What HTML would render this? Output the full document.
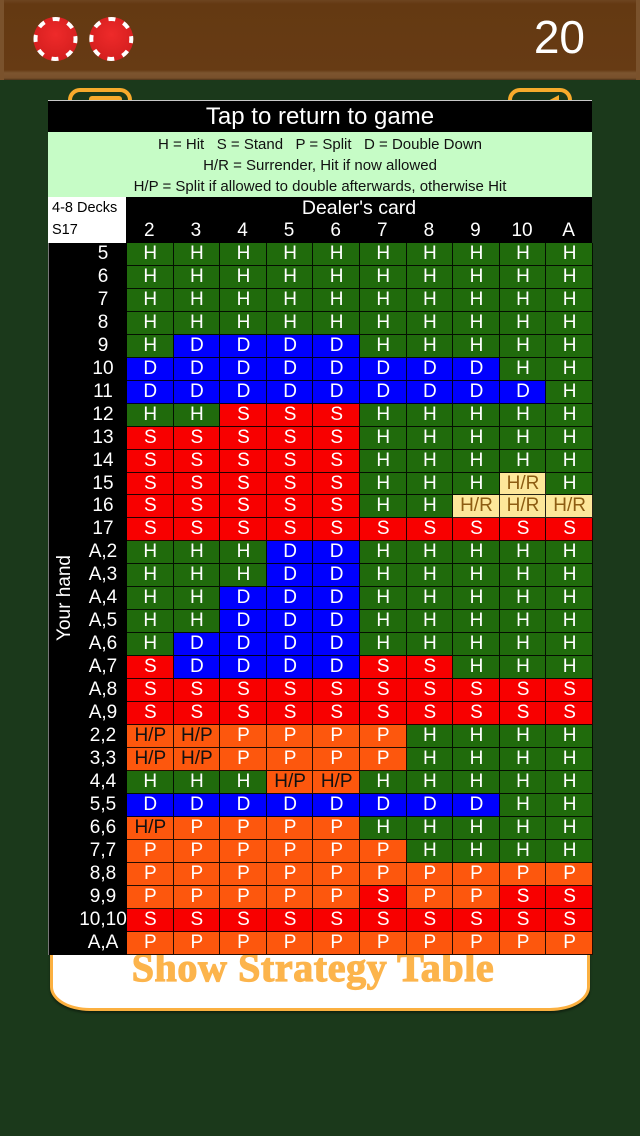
<!DOCTYPE html>
<html><head><meta charset="utf-8">
<style>
*{margin:0;padding:0;box-sizing:border-box}
html,body{width:640px;height:1136px;overflow:hidden;background:#1b391b;font-family:"Liberation Sans",sans-serif}
.bar{position:absolute;left:0;top:0;width:640px;height:80px;background:linear-gradient(to bottom,#6d4420 0,#643912 4px,#673b14 70px,#7c552f 73px,#78502b 78px,#4e3219 80px);border-left:4px solid #7a522c;border-right:4px solid #7a522c}
.score{position:absolute;right:55px;top:10px;font-size:46px;color:#fff;line-height:54px}
.btn{position:absolute;top:88px;width:64px;height:40px;border:4px solid #f8aa2c;border-radius:12px}
.btnin{position:absolute;left:89px;top:96px;width:33px;height:12px;background:#f8aa2c;border-radius:3px}
.panel{position:absolute;left:50px;top:930px;width:540px;height:81px;background:#fff;border:3px solid #fbb040;border-top:none;border-radius:0 0 40px 40px/0 0 24px 24px;box-shadow:0 2px 2px rgba(0,0,0,.4)}
.show{position:absolute;left:0;width:640px;top:946px;text-align:center;padding-right:14px;font-family:"Liberation Serif",serif;font-weight:bold;font-size:40px;line-height:44px;color:#fcb44c;letter-spacing:0.6px;-webkit-text-stroke:1.2px #fcb44c}
.tbl{position:absolute;left:48px;top:100px;width:544px;z-index:2}
.topline{height:1px;background:#c8c8c8}
.title{height:31px;background:#000;color:#fff;font-size:24px;line-height:31px;text-align:center}
.leg{height:65px;background:#c6fcc6;color:#111;font-size:15px;line-height:21.3px;text-align:center;padding-top:1.5px;white-space:nowrap}
.hdr{position:relative;height:46px;background:#000}
.hl{position:absolute;left:0;top:0;width:78px;height:46px;background:#fff;color:#000;font-size:14.5px}
.hl span{position:absolute;left:4px}
.dc{position:absolute;left:78px;width:466px;top:0;text-align:center;color:#fff;font-size:19.5px;line-height:22px}
.nums{position:absolute;left:78px;top:23px;width:466px;display:flex;color:#fff;font-size:19px;line-height:22px}
.nums span{width:46.6px;text-align:center}
.grid{display:grid;grid-template-columns:78px repeat(10,46.6px);grid-template-rows:repeat(31,22.968px);background:#000;border-left:1px solid #777}
.grid b{font-weight:normal;color:#fff;font-size:19px;line-height:21px;text-align:center;padding-left:30px;white-space:nowrap}
.grid i{font-style:normal;background:#206b0c;color:#fff;font-size:19px;line-height:21px;text-align:center;box-shadow:inset -1px -1px 0 rgba(0,0,0,.85)}
.grid i.b{background:#0000fe}
.grid i.r{background:#f80000}
.grid i.o{background:#fd570d}
.grid i.k{background:#fd570d;color:#111}
.grid i.y{background:#fde79a;color:#8d5d12}
.yh{position:absolute;left:69.5px;top:598px;transform-origin:0 0;transform:rotate(-90deg) translate(-50%,-15px);color:#fff;font-size:19px;line-height:19px;white-space:nowrap;z-index:3}
</style></head><body>
<div class="bar"></div>
<svg style="position:absolute;left:0;top:0" width="150" height="80">
<defs><radialGradient id="cg" cx="50%" cy="40%" r="60%"><stop offset="0" stop-color="#ee2a2a"/><stop offset="1" stop-color="#d41e1e"/></radialGradient></defs>
<circle cx="55.5" cy="39" r="22" fill="url(#cg)"/>
<circle cx="55.5" cy="39" r="20" fill="none" stroke="#fff" stroke-width="4" stroke-dasharray="7 8.7" stroke-dashoffset="3"/>
<circle cx="111.3" cy="39" r="22" fill="url(#cg)"/>
<circle cx="111.3" cy="39" r="20" fill="none" stroke="#fff" stroke-width="4" stroke-dasharray="7 8.7" stroke-dashoffset="3"/>
</svg>
<div class="score">20</div>
<div class="btn" style="left:68px"></div>
<div class="btnin"></div>
<div class="btn" style="left:508px"></div>
<svg style="position:absolute;left:540px;top:90px" width="24" height="14"><polygon points="6,12 19,5 19,12" fill="#f8aa2c"/></svg>

<div class="panel"></div>
<div class="show">Show Strategy Table</div>

<div class="tbl">
<div class="topline"></div>
<div class="title">Tap to return to game</div>
<div class="leg">H = Hit &nbsp; S = Stand &nbsp; P = Split &nbsp; D = Double Down<br>H/R = Surrender, Hit if now allowed<br>H/P = Split if allowed to double afterwards, otherwise Hit</div>
<div class="hdr">
<div class="hl"><span style="top:3px">4-8 Decks</span><span style="top:25px">S17</span></div>
<div class="dc">Dealer's card</div>
<div class="nums"><span>2</span><span>3</span><span>4</span><span>5</span><span>6</span><span>7</span><span>8</span><span>9</span><span>10</span><span>A</span></div>
</div>
<div class="grid">
<b>5</b><i>H</i><i>H</i><i>H</i><i>H</i><i>H</i><i>H</i><i>H</i><i>H</i><i>H</i><i>H</i>
<b>6</b><i>H</i><i>H</i><i>H</i><i>H</i><i>H</i><i>H</i><i>H</i><i>H</i><i>H</i><i>H</i>
<b>7</b><i>H</i><i>H</i><i>H</i><i>H</i><i>H</i><i>H</i><i>H</i><i>H</i><i>H</i><i>H</i>
<b>8</b><i>H</i><i>H</i><i>H</i><i>H</i><i>H</i><i>H</i><i>H</i><i>H</i><i>H</i><i>H</i>
<b>9</b><i>H</i><i class="b">D</i><i class="b">D</i><i class="b">D</i><i class="b">D</i><i>H</i><i>H</i><i>H</i><i>H</i><i>H</i>
<b>10</b><i class="b">D</i><i class="b">D</i><i class="b">D</i><i class="b">D</i><i class="b">D</i><i class="b">D</i><i class="b">D</i><i class="b">D</i><i>H</i><i>H</i>
<b>11</b><i class="b">D</i><i class="b">D</i><i class="b">D</i><i class="b">D</i><i class="b">D</i><i class="b">D</i><i class="b">D</i><i class="b">D</i><i class="b">D</i><i>H</i>
<b>12</b><i>H</i><i>H</i><i class="r">S</i><i class="r">S</i><i class="r">S</i><i>H</i><i>H</i><i>H</i><i>H</i><i>H</i>
<b>13</b><i class="r">S</i><i class="r">S</i><i class="r">S</i><i class="r">S</i><i class="r">S</i><i>H</i><i>H</i><i>H</i><i>H</i><i>H</i>
<b>14</b><i class="r">S</i><i class="r">S</i><i class="r">S</i><i class="r">S</i><i class="r">S</i><i>H</i><i>H</i><i>H</i><i>H</i><i>H</i>
<b>15</b><i class="r">S</i><i class="r">S</i><i class="r">S</i><i class="r">S</i><i class="r">S</i><i>H</i><i>H</i><i>H</i><i class="y">H/R</i><i>H</i>
<b>16</b><i class="r">S</i><i class="r">S</i><i class="r">S</i><i class="r">S</i><i class="r">S</i><i>H</i><i>H</i><i class="y">H/R</i><i class="y">H/R</i><i class="y">H/R</i>
<b>17</b><i class="r">S</i><i class="r">S</i><i class="r">S</i><i class="r">S</i><i class="r">S</i><i class="r">S</i><i class="r">S</i><i class="r">S</i><i class="r">S</i><i class="r">S</i>
<b>A,2</b><i>H</i><i>H</i><i>H</i><i class="b">D</i><i class="b">D</i><i>H</i><i>H</i><i>H</i><i>H</i><i>H</i>
<b>A,3</b><i>H</i><i>H</i><i>H</i><i class="b">D</i><i class="b">D</i><i>H</i><i>H</i><i>H</i><i>H</i><i>H</i>
<b>A,4</b><i>H</i><i>H</i><i class="b">D</i><i class="b">D</i><i class="b">D</i><i>H</i><i>H</i><i>H</i><i>H</i><i>H</i>
<b>A,5</b><i>H</i><i>H</i><i class="b">D</i><i class="b">D</i><i class="b">D</i><i>H</i><i>H</i><i>H</i><i>H</i><i>H</i>
<b>A,6</b><i>H</i><i class="b">D</i><i class="b">D</i><i class="b">D</i><i class="b">D</i><i>H</i><i>H</i><i>H</i><i>H</i><i>H</i>
<b>A,7</b><i class="r">S</i><i class="b">D</i><i class="b">D</i><i class="b">D</i><i class="b">D</i><i class="r">S</i><i class="r">S</i><i>H</i><i>H</i><i>H</i>
<b>A,8</b><i class="r">S</i><i class="r">S</i><i class="r">S</i><i class="r">S</i><i class="r">S</i><i class="r">S</i><i class="r">S</i><i class="r">S</i><i class="r">S</i><i class="r">S</i>
<b>A,9</b><i class="r">S</i><i class="r">S</i><i class="r">S</i><i class="r">S</i><i class="r">S</i><i class="r">S</i><i class="r">S</i><i class="r">S</i><i class="r">S</i><i class="r">S</i>
<b>2,2</b><i class="k">H/P</i><i class="k">H/P</i><i class="o">P</i><i class="o">P</i><i class="o">P</i><i class="o">P</i><i>H</i><i>H</i><i>H</i><i>H</i>
<b>3,3</b><i class="k">H/P</i><i class="k">H/P</i><i class="o">P</i><i class="o">P</i><i class="o">P</i><i class="o">P</i><i>H</i><i>H</i><i>H</i><i>H</i>
<b>4,4</b><i>H</i><i>H</i><i>H</i><i class="k">H/P</i><i class="k">H/P</i><i>H</i><i>H</i><i>H</i><i>H</i><i>H</i>
<b>5,5</b><i class="b">D</i><i class="b">D</i><i class="b">D</i><i class="b">D</i><i class="b">D</i><i class="b">D</i><i class="b">D</i><i class="b">D</i><i>H</i><i>H</i>
<b>6,6</b><i class="k">H/P</i><i class="o">P</i><i class="o">P</i><i class="o">P</i><i class="o">P</i><i>H</i><i>H</i><i>H</i><i>H</i><i>H</i>
<b>7,7</b><i class="o">P</i><i class="o">P</i><i class="o">P</i><i class="o">P</i><i class="o">P</i><i class="o">P</i><i>H</i><i>H</i><i>H</i><i>H</i>
<b>8,8</b><i class="o">P</i><i class="o">P</i><i class="o">P</i><i class="o">P</i><i class="o">P</i><i class="o">P</i><i class="o">P</i><i class="o">P</i><i class="o">P</i><i class="o">P</i>
<b>9,9</b><i class="o">P</i><i class="o">P</i><i class="o">P</i><i class="o">P</i><i class="o">P</i><i class="r">S</i><i class="o">P</i><i class="o">P</i><i class="r">S</i><i class="r">S</i>
<b>10,10</b><i class="r">S</i><i class="r">S</i><i class="r">S</i><i class="r">S</i><i class="r">S</i><i class="r">S</i><i class="r">S</i><i class="r">S</i><i class="r">S</i><i class="r">S</i>
<b>A,A</b><i class="o">P</i><i class="o">P</i><i class="o">P</i><i class="o">P</i><i class="o">P</i><i class="o">P</i><i class="o">P</i><i class="o">P</i><i class="o">P</i><i class="o">P</i>
</div>
</div>
<div class="yh">Your hand</div>
</body></html>
